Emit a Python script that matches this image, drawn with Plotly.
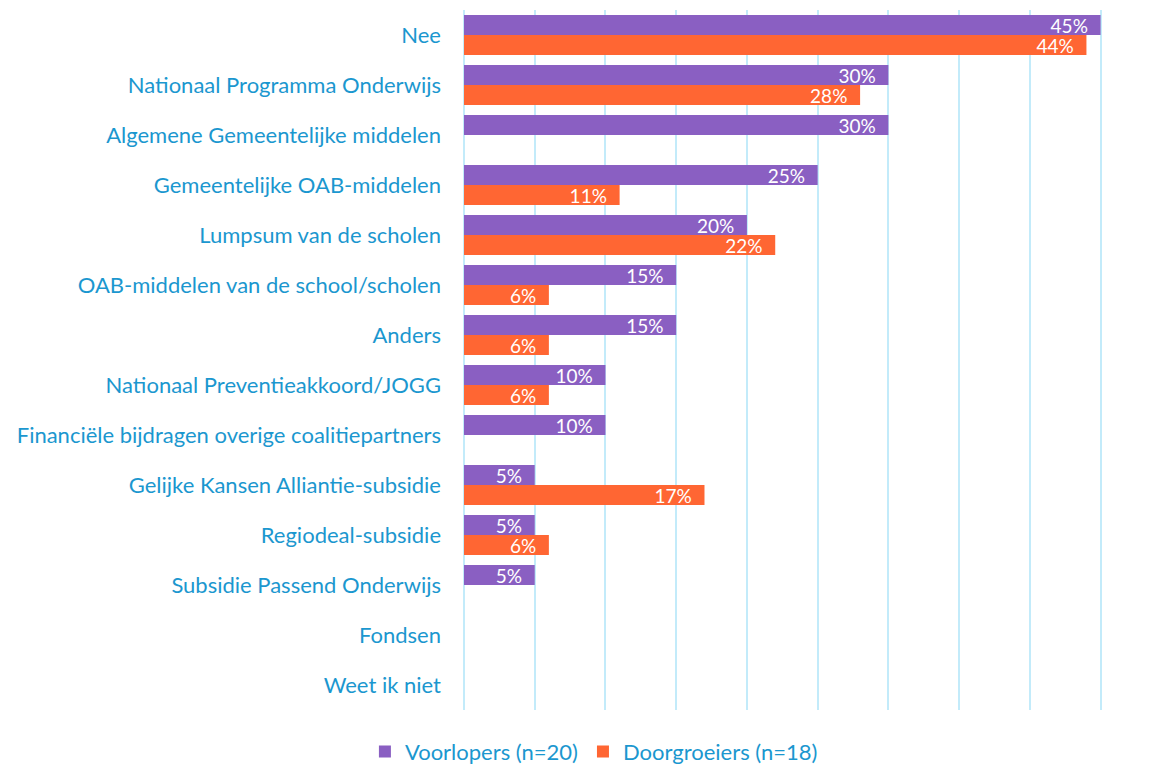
import plotly.graph_objects as go

categories = [
    "Nee",
    "Nationaal Programma Onderwijs",
    "Algemene Gemeentelijke middelen",
    "Gemeentelijke OAB-middelen",
    "Lumpsum van de scholen",
    "OAB-middelen van de school/scholen",
    "Anders",
    "Nationaal Preventieakkoord/JOGG",
    "Financiële bijdragen overige coalitiepartners",
    "Gelijke Kansen Alliantie-subsidie",
    "Regiodeal-subsidie",
    "Subsidie Passend Onderwijs",
    "Fondsen",
    "Weet ik niet",
]
voorlopers = [45, 30, 30, 25, 20, 15, 15, 10, 10, 5, 5, 5, None, None]
doorgroeiers = [44, 28, None, 11, 22, 6, 6, 6, None, 17, 6, None, None, None]

series = [
    ("Voorlopers (n=20)", voorlopers, "#8A5FC2"),
    ("Doorgroeiers (n=18)", doorgroeiers, "#FF6633"),
]

FONT = "Lato"
LABEL_BLUE = "#1B97CF"
GRID = "#C3EBFA"
PAD = "\u00a0\u00a0"  # keeps the value label clear of the bar end

fig = go.Figure()
for name, vals, color in series:
    fig.add_trace(go.Bar(
        y=categories,
        x=vals,
        name=name,
        orientation="h",
        marker=dict(color=color, line=dict(width=0)),
        text=[f"{v}%{PAD}" if v is not None else "" for v in vals],
        textposition="inside",
        insidetextanchor="end",
        textfont=dict(family=FONT, size=19, color="white"),
        cliponaxis=False,
    ))

fig.update_layout(
    width=1160,
    height=771,
    barmode="group",
    bargap=0.2,
    bargroupgap=0,
    plot_bgcolor="white",
    paper_bgcolor="white",
    margin=dict(l=464, r=58, t=10, b=61),
    font=dict(family=FONT, size=22, color=LABEL_BLUE),
    uniformtext=dict(minsize=19, mode="show"),
    legend=dict(
        orientation="h",
        xref="container",
        yref="container",
        x=0.512,
        xanchor="center",
        y=0.025,
        yanchor="middle",
        font=dict(family=FONT, size=22, color=LABEL_BLUE),
        itemwidth=30,
        traceorder="normal",
    ),
)
fig.update_xaxes(
    range=[0, 45.1],
    dtick=5,
    showgrid=True,
    gridcolor=GRID,
    gridwidth=2,
    zeroline=True,
    zerolinecolor=GRID,
    zerolinewidth=2,
    showticklabels=False,
    showline=False,
)
fig.update_yaxes(
    autorange="reversed",
    showgrid=False,
    showline=False,
    ticks="",
    ticklabelstandoff=22,
    tickfont=dict(family=FONT, size=22, color=LABEL_BLUE),
)

fig.write_html("out.html")
